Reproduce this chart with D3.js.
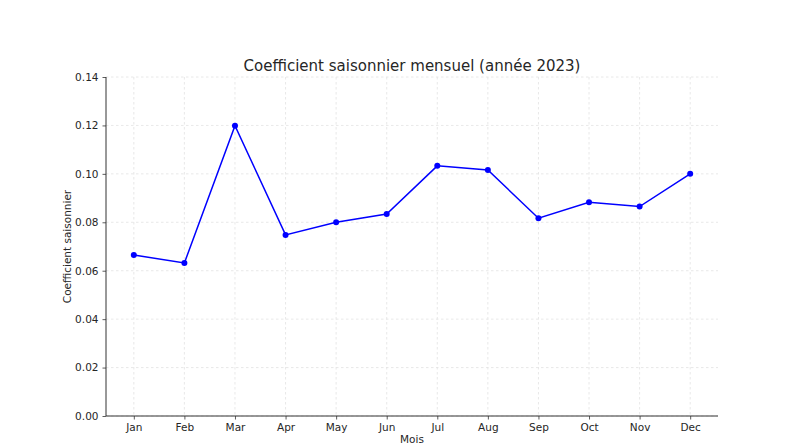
<!DOCTYPE html>
<html>
<head>
<meta charset="utf-8">
<script src="https://cdn.jsdelivr.net/npm/d3@7"></script>
<style>
	body { margin: 0; background: #fff; }
	svg { font-family: "DejaVu Sans", sans-serif; }
</style>
</head>
<body>
<div id="viz-holder"></div>
<script>
const months = ['Jan', 'Feb', 'Mar', 'Apr', 'May', 'Jun', 'Jul', 'Aug', 'Sep', 'Oct', 'Nov', 'Dec'];
const coefficients = [0.0665, 0.0632, 0.1199, 0.0748, 0.0800, 0.0834, 0.1033, 0.1016, 0.0817, 0.0883, 0.0865, 0.1000];
const yTicks = [0, 0.02, 0.04, 0.06, 0.08, 0.10, 0.12, 0.14];

let width = 812, height = 445;
let margin = {top: 77, right: 94, bottom: 29, left: 106};
let innerW = width - margin.left - margin.right;
let innerH = height - margin.top - margin.bottom;

let svg = d3.select('#viz-holder')
	.append('svg')
	.attr('width', width)
	.attr('height', height);

let g = svg.append('g')
	.attr('transform', `translate(${margin.left},${margin.top})`);

let x = d3.scalePoint()
	.domain(months)
	.range([0, innerW])
	.padding(0.55);

let y = d3.scaleLinear()
	.domain([0, 0.14])
	.range([innerH, 0]);

// grille pointillée
g.append('g')
	.selectAll('line')
	.data(yTicks)
	.enter().append('line')
	.attr('x1', 0).attr('x2', innerW)
	.attr('y1', d => y(d)).attr('y2', d => y(d))
	.attr('stroke', '#e2e2e2')
	.attr('stroke-width', 0.8)
	.attr('stroke-dasharray', '2.5,2.5');

g.append('g')
	.selectAll('line')
	.data(months)
	.enter().append('line')
	.attr('x1', d => x(d)).attr('x2', d => x(d))
	.attr('y1', 0).attr('y2', innerH)
	.attr('stroke', '#e2e2e2')
	.attr('stroke-width', 0.8)
	.attr('stroke-dasharray', '2.5,2.5');

let xAxis = d3.axisBottom(x).tickSize(3.5).tickPadding(4);
let yAxis = d3.axisLeft(y).tickValues(yTicks).tickFormat(d3.format('.2f')).tickSize(3.5).tickPadding(4);

let gx = g.append('g')
	.attr('transform', `translate(0,${innerH})`)
	.call(xAxis);
gx.select('.domain').attr('d', `M0,0H${innerW}`);

let gy = g.append('g').call(yAxis);
gy.select('.domain').attr('d', `M0,0V${innerH}`);

[gx, gy].forEach(a => {
	a.selectAll('text').attr('font-size', 10.5).attr('fill', '#262626').attr('font-family', '"DejaVu Sans", sans-serif');
	a.selectAll('line').attr('stroke', '#333').attr('stroke-width', 0.8);
	a.select('.domain').attr('stroke', '#333').attr('stroke-width', 1);
});

let line = d3.line()
	.x((d, i) => x(months[i]))
	.y(d => y(d));

g.append('path')
	.datum(coefficients)
	.attr('fill', 'none')
	.attr('stroke', '#0000ff')
	.attr('stroke-width', 1.5)
	.attr('d', line);

g.selectAll('.pt')
	.data(coefficients)
	.enter().append('circle')
	.attr('class', 'pt')
	.attr('cx', (d, i) => x(months[i]))
	.attr('cy', d => y(d))
	.attr('r', 3)
	.attr('fill', '#0000ff');

svg.append('text')
	.attr('x', margin.left + innerW / 2)
	.attr('y', 71)
	.attr('text-anchor', 'middle')
	.attr('font-size', 15)
	.attr('fill', '#262626')
	.text('Coefficient saisonnier mensuel (année 2023)');

svg.append('text')
	.attr('x', margin.left + innerW / 2)
	.attr('y', 443)
	.attr('text-anchor', 'middle')
	.attr('font-size', 10.5)
	.attr('fill', '#262626')
	.text('Mois');

svg.append('text')
	.attr('transform', `translate(71,${margin.top + innerH / 2}) rotate(-90)`)
	.attr('text-anchor', 'middle')
	.attr('font-size', 10.5)
	.attr('fill', '#262626')
	.text('Coefficient saisonnier');
</script>
</body>
</html>
